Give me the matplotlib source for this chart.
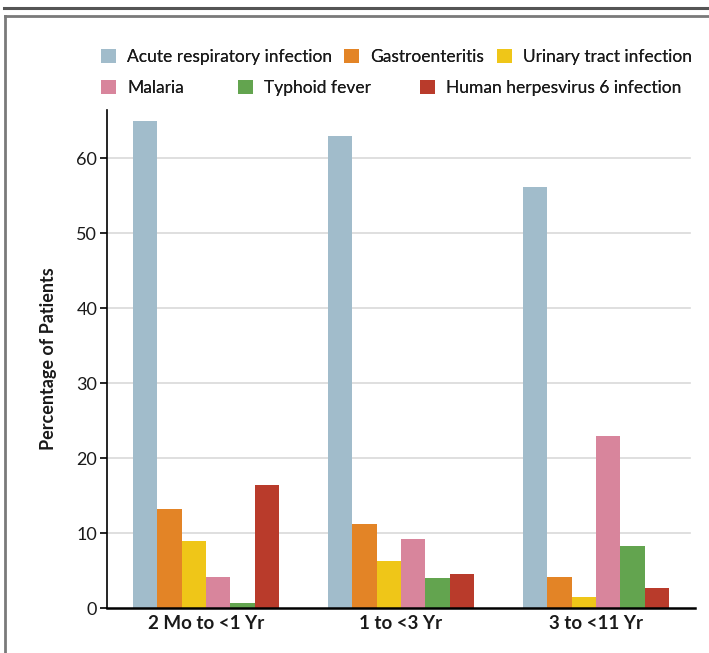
import numpy as np
import matplotlib
matplotlib.use('Agg')
from matplotlib import pyplot as plt
from matplotlib.patches import Patch
from matplotlib.lines import Line2D

plt.rcParams['font.family'] = ['Lato', 'DejaVu Sans']

# data
age_groups = ['2 Mo to <1 Yr', '1 to <3 Yr', '3 to <11 Yr']
diagnoses = ['Acute respiratory infection', 'Gastroenteritis', 'Urinary tract infection',
             'Malaria', 'Typhoid fever', 'Human herpesvirus 6 infection']
acute_resp = [65.0, 63.0, 56.2]
gastro = [13.2, 11.2, 4.1]
uti = [8.9, 6.3, 1.5]
malaria = [4.1, 9.2, 22.9]
typhoid = [0.7, 4.0, 8.3]
hhv6 = [16.4, 4.6, 2.7]
series = [acute_resp, gastro, uti, malaria, typhoid, hhv6]
colors = ['#a1bccb', '#e38426', '#efc618', '#d8859c', '#63a44f', '#b93b2b']

fig = plt.figure(figsize=(7.09, 6.53), dpi=100)
ax = fig.add_axes([0.1509, 0.0689, 0.9803 - 0.1509, 0.8315 - 0.0689])

x = np.arange(len(age_groups))
w = 0.125
for i, vals in enumerate(series):
    ax.bar(x + (i - 2.5) * w, vals, width=w, color=colors[i], zorder=3)

ax.set_xlim(-0.508, 2.508)
ax.set_ylim(0, 66.4)
ax.set_yticks([0, 10, 20, 30, 40, 50, 60])
ax.set_xticks(x)
ax.set_xticklabels(age_groups, fontsize=13.5, fontweight='bold', color='#1a1a1a')
ax.tick_params(axis='x', length=0, pad=5)
ax.tick_params(axis='y', length=5, width=1.2, labelsize=13, labelcolor='#1a1a1a', pad=2)
# gridlines stop a little short of the axis end
for g in [10, 20, 30, 40, 50, 60]:
    ax.axhline(g, xmin=0, xmax=0.991, color='#d9d9d9', linewidth=1.2, zorder=0)
for s in ['top', 'right']:
    ax.spines[s].set_visible(False)
ax.spines['left'].set_linewidth(1.2)
ax.spines['bottom'].set_linewidth(1.8)
ax.spines['bottom'].set_zorder(4)
ax.set_ylabel('Percentage of Patients', fontsize=13, fontweight='bold', color='#1a1a1a', labelpad=14)

# legend in two flowing rows, one entry each
legend_pos = [(104, 57), (347, 57), (500, 57), (104, 88), (241, 88), (423, 88)]
for i, lab in enumerate(diagnoses):
    px, py = legend_pos[i]
    lg = fig.legend(handles=[Patch(facecolor=colors[i], edgecolor='none')], labels=[lab],
                    loc='center left', bbox_to_anchor=(px / 709 - 0.004, 1 - py / 653),
                    frameon=False, fontsize=12.5, handlelength=0.85, handleheight=0.85,
                    handletextpad=0.65, borderpad=0, borderaxespad=0, labelcolor='#1a1a1a')
    fig.add_artist(lg)

# page frame
fig.add_artist(Line2D([4 / 709, 1], [1 - 8 / 653, 1 - 8 / 653], color='#555555', linewidth=2.2))
fig.add_artist(Line2D([5 / 709, 1], [1 - 16 / 653, 1 - 16 / 653], color='#7a7a7a', linewidth=2))
fig.add_artist(Line2D([5 / 709, 5 / 709], [0, 1 - 16 / 653], color='#7a7a7a', linewidth=2))

fig.savefig('out.png', dpi=100)
